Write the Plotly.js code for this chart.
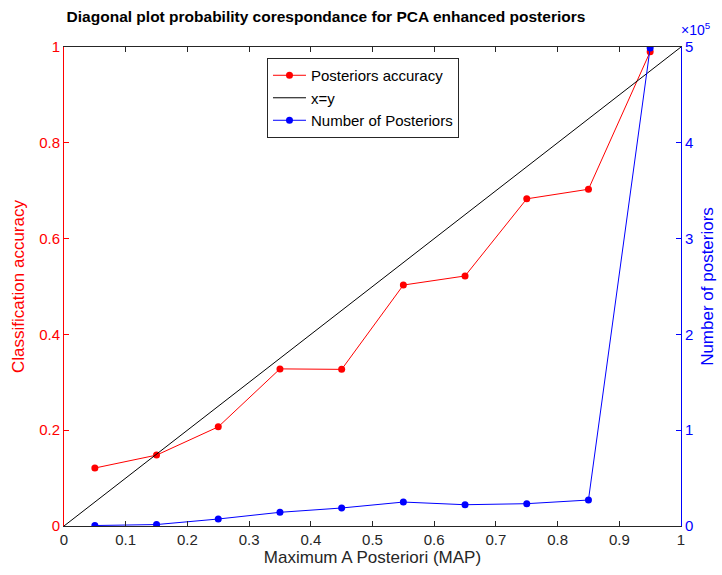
<!DOCTYPE html>
<html>
<head>
<meta charset="utf-8">
<script src="https://cdn.plot.ly/plotly-3.0.1.min.js"></script>
<style>html,body{margin:0;padding:0;background:#fff;}#chart{width:722px;height:575px;}</style>
</head>
<body>
<div id="chart"></div>
<script>
const mapBins = [0.05, 0.15, 0.25, 0.35, 0.45, 0.55, 0.65, 0.75, 0.85, 0.95];
const accuracy = [0.121, 0.148, 0.207, 0.328, 0.327, 0.503, 0.522, 0.683, 0.703, 0.990];
const numPosteriors = [500, 1500, 7300, 14300, 18800, 25000, 22200, 23300, 27100, 499000];
const diagX = [0, 1];
const diagY = [0, 1];
const rightTickVals = [0, 100000, 200000, 300000, 400000, 500000];
const rightTickText = ['0', '1', '2', '3', '4', '5'];

const font = 'Liberation Sans, Arial, Helvetica, sans-serif';
const traces = [
  {x: mapBins, y: accuracy, type: 'scatter', mode: 'lines+markers', name: 'Posteriors accuracy',
   line: {color: '#ff0000', width: 1}, marker: {color: '#ff0000', size: 7}, yaxis: 'y'},
  {x: diagX, y: diagY, type: 'scatter', mode: 'lines', name: 'x=y',
   line: {color: '#000000', width: 1}, yaxis: 'y'},
  {x: mapBins, y: numPosteriors, type: 'scatter', mode: 'lines+markers', name: 'Number of Posteriors',
   line: {color: '#0000ff', width: 1}, marker: {color: '#0000ff', size: 7}, yaxis: 'y2'}
];
const layout = {
  width: 722, height: 575,
  margin: {l: 64, r: 41, t: 47, b: 49},
  paper_bgcolor: '#fff', plot_bgcolor: '#fff',
  font: {family: font, size: 15, color: '#262626'},
  showlegend: true,
  title: {text: '<b>Diagonal plot probability corespondance for PCA enhanced posteriors</b>',
          font: {family: font, size: 15.5, color: '#000'}, x: 326 / 722, xanchor: 'center', xref: 'container',
          y: 0.972, yanchor: 'middle'},
  xaxis: {range: [0, 1], dtick: 0.1, tick0: 0, ticks: 'inside', ticklen: 5, tickcolor: '#262626',
          showline: true, linecolor: '#262626', linewidth: 1, mirror: 'ticks', showgrid: false, zeroline: false,
          tickfont: {size: 15, color: '#262626'},
          title: {text: 'Maximum A Posteriori (MAP)', font: {size: 17, color: '#262626'}, standoff: 3}},
  yaxis: {range: [0, 1], dtick: 0.2, tick0: 0, ticks: 'inside', ticklen: 5, tickcolor: '#ff0000',
          showline: true, linecolor: '#ff0000', linewidth: 1, showgrid: false, zeroline: false,
          tickfont: {size: 15, color: '#ff0000'},
          title: {text: 'Classification accuracy', font: {size: 17, color: '#ff0000'}, standoff: 10}},
  yaxis2: {range: [0, 500000], overlaying: 'y', side: 'right', tickvals: rightTickVals, ticktext: rightTickText,
           ticks: 'inside', ticklen: 5, tickcolor: '#0000ff', showline: true, linecolor: '#0000ff', linewidth: 1,
           showgrid: false, zeroline: false, tickfont: {size: 15, color: '#0000ff'},
           title: {text: 'Number of posteriors', font: {size: 17, color: '#0000ff'}, standoff: 8}},
  legend: {x: 0.329, y: 0.977, xanchor: 'left', yanchor: 'top', bgcolor: '#fff', bordercolor: '#262626',
           borderwidth: 1, font: {size: 15, color: '#000'}, tracegroupgap: 0, itemwidth: 33},
  annotations: [{text: '×10<sup>5</sup>', xref: 'paper', yref: 'paper', x: 1.0, y: 1.0, xanchor: 'left', yanchor: 'bottom',
                 showarrow: false, font: {size: 14, color: '#0000ff'}, xshift: -2, yshift: 7}]
};
Plotly.newPlot('chart', traces, layout, {displayModeBar: false, staticPlot: true});
</script>
</body>
</html>
